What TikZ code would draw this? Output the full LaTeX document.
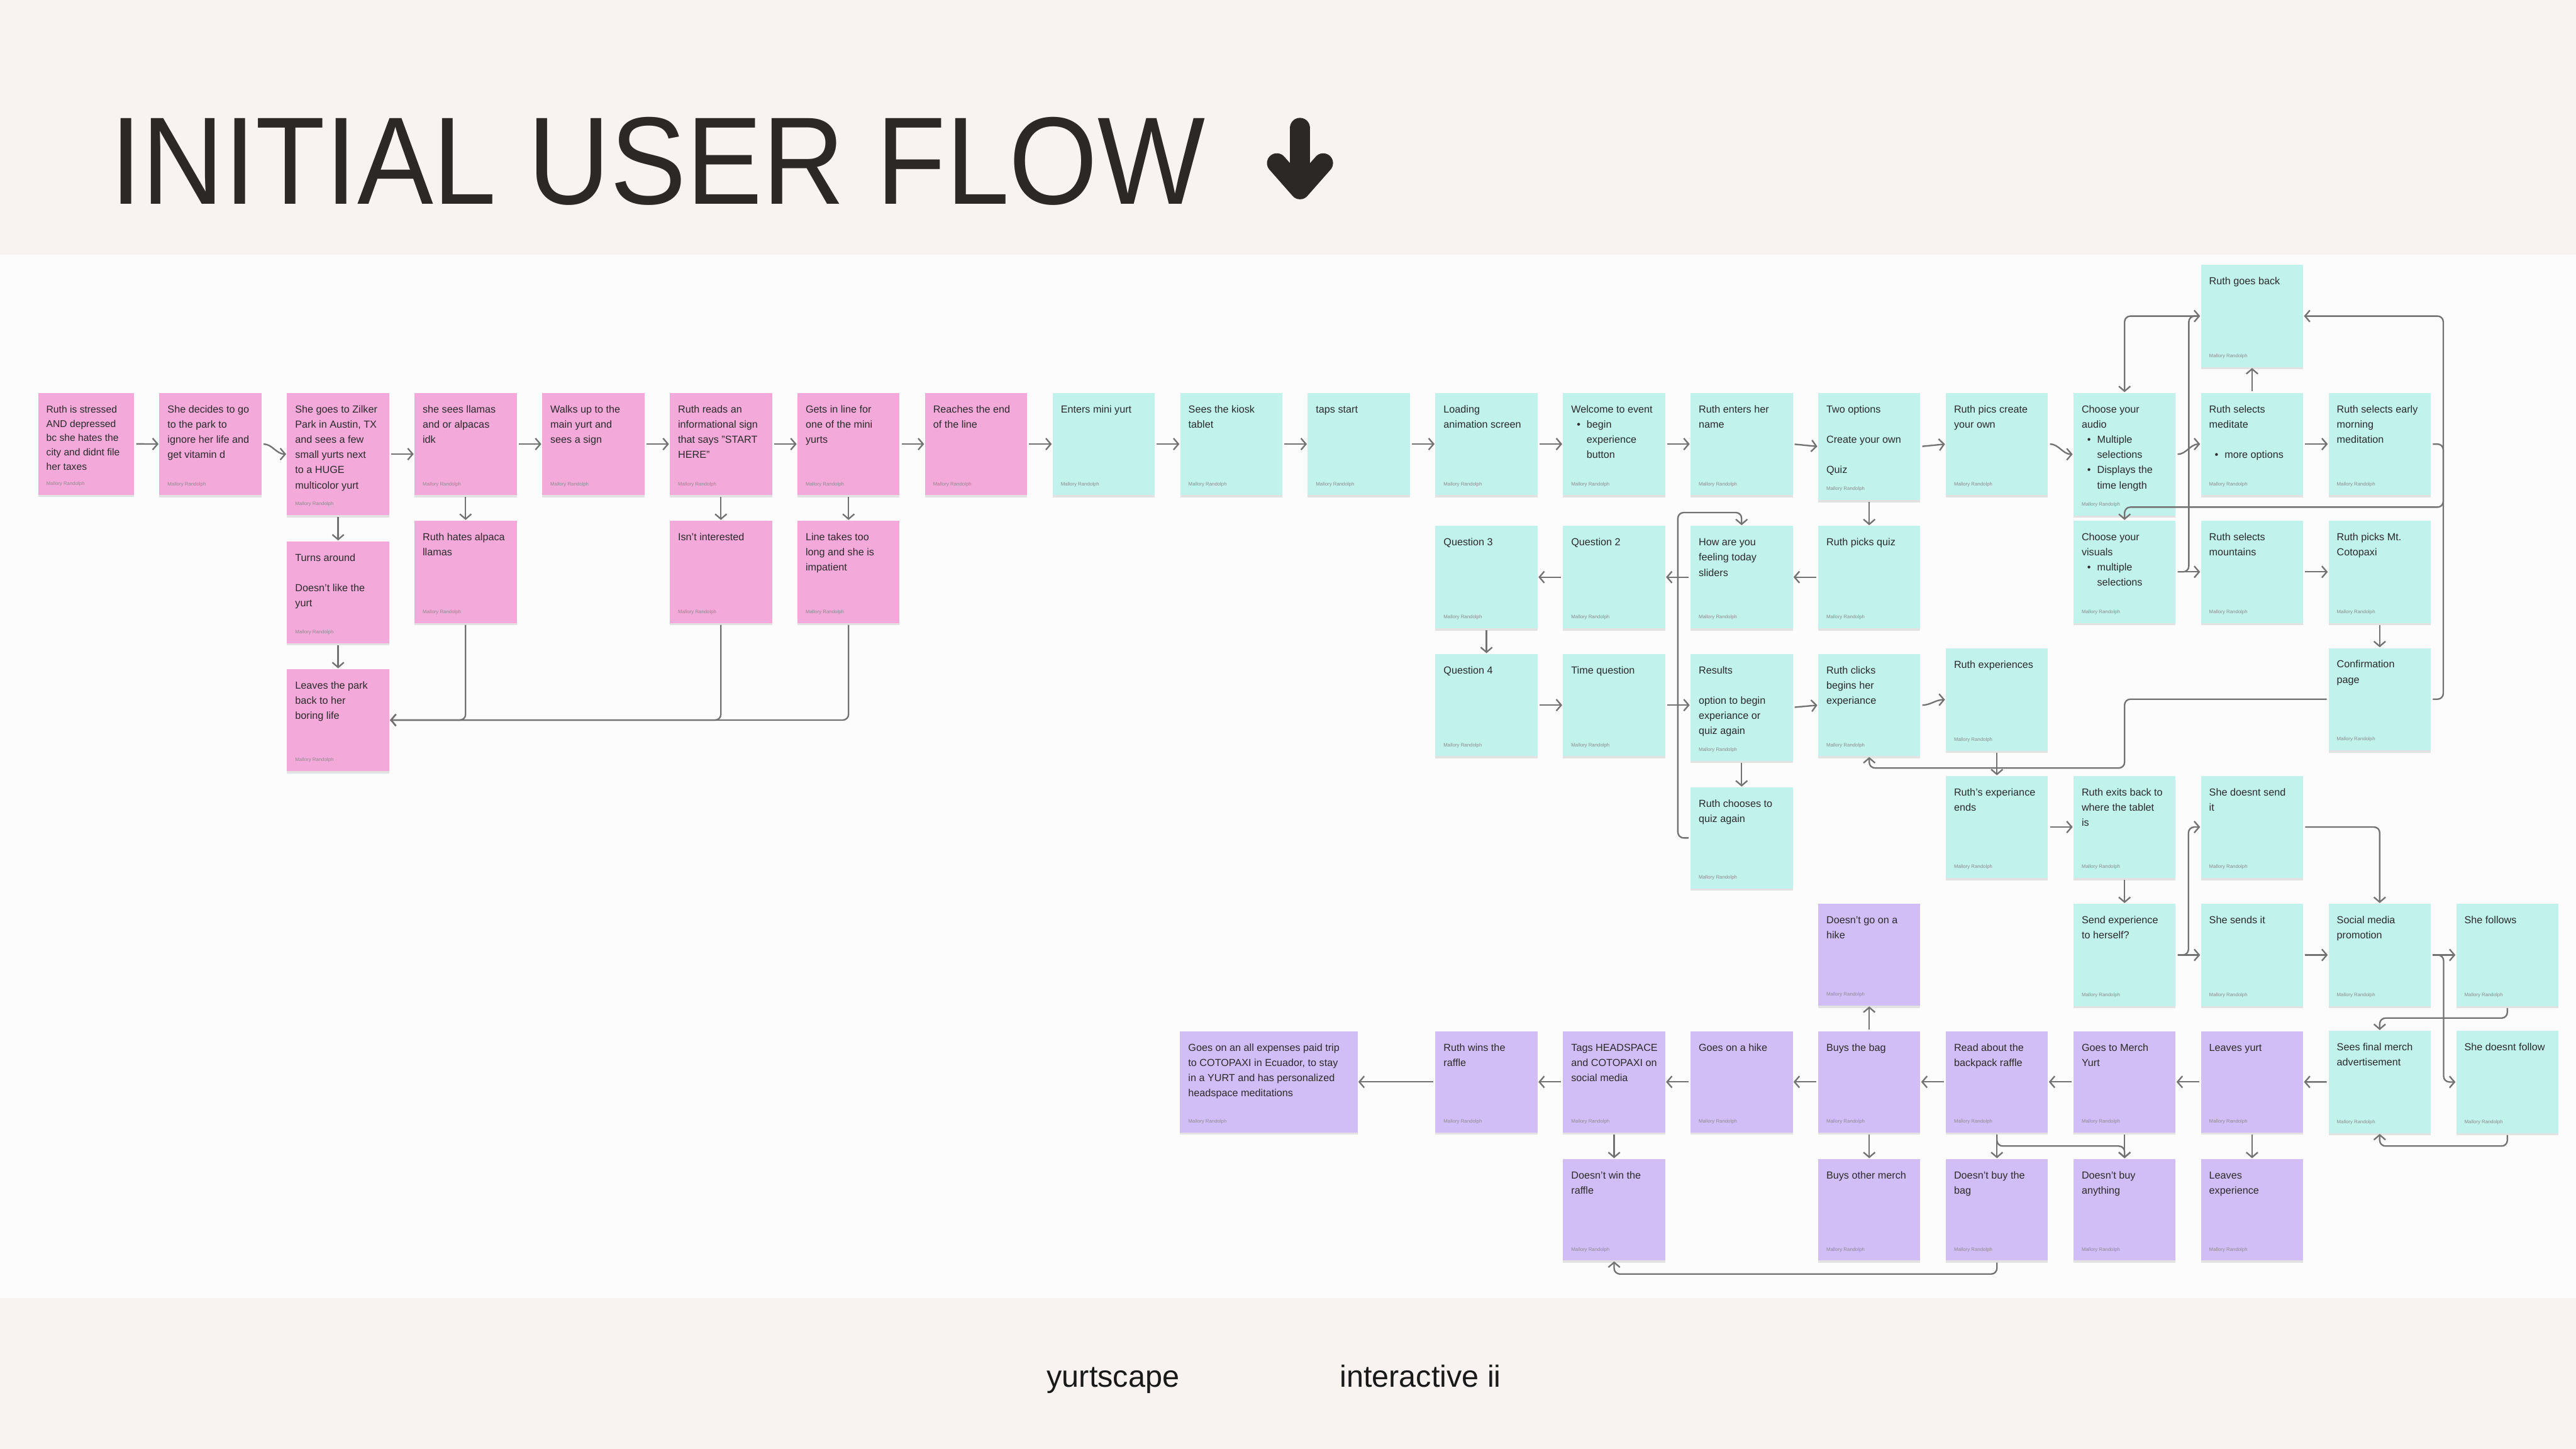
\documentclass[tikz,border=0pt]{standalone}
\usepackage{fontspec}
\setmainfont{Liberation Sans}
\usepackage{graphicx}
\usetikzlibrary{arrows.meta,shadows}
\definecolor{pinkc}{HTML}{F3AADA}
\definecolor{cyanc}{HTML}{C1F2EC}
\definecolor{purpc}{HTML}{D2BEF7}
\definecolor{bandc}{HTML}{F8F3F1}
\definecolor{bgc}{HTML}{FCFCFC}
\definecolor{txtc}{HTML}{2A2A2A}
\definecolor{authc}{HTML}{8C8C8C}
\definecolor{arrc}{HTML}{727272}
\definecolor{titc}{HTML}{2B2826}
\newcommand\stkfont{\fontsize{6.2}{9.25}\selectfont}
\newcommand\stkfontS{\fontsize{6.0}{8.75}\selectfont}
\newcommand\authfont{\fontsize{3}{3.6}\selectfont\color{authc}}
\newcommand\bul[1]{\par\hangindent=9.4pt\hangafter=1\noindent\hbox to 9.4pt{\hskip3.4pt\textbullet\hss}#1\par}
% #1 font, #2 name, #3 x, #4 y, #5 w, #6 h, #7 colour, #8 text
\newcommand\stk[8][\stkfont]{%
  \node[stick,fill=#7] (#2) at ({#3+#5/2},{#4+#6/2})
  {\hbox to \dimexpr#5pt-10pt\relax{\parbox[t][#6pt][t]{\dimexpr#5pt-5pt\relax}{#1\rightskip=0pt plus 1fil\relax\hyphenpenalty=10000\relax
   \rule{0pt}{12pt}#8\par\vskip 0pt plus 1fill{\authfont Mallory Randolph\par}\vspace*{5.2pt}}\hss}};}
\tikzset{
  stick/.style={rectangle, inner xsep=5pt, inner ysep=0pt, outer sep=0pt, text=txtc,
    drop shadow={shadow xshift=0pt, shadow yshift=-1.4pt, opacity=0.10, fill=black}},
  arr/.style={draw=arrc, line width=0.9pt, rounded corners=3.5pt,
    -{Straight Barb[length=3pt,width=7pt]}, shorten <=1.2pt, shorten >=0.5pt},
}
\begin{document}
\begin{tikzpicture}[x=1pt,y=-1pt,line join=round]
\fill[bgc] (0,0) rectangle (1568,882);
\fill[bandc] (0,0) rectangle (1568,155);
\fill[bandc] (0,790) rectangle (1568,882);
\useasboundingbox (0,0) rectangle (1568,882);
% title
\node[anchor=base west, inner sep=0, text=titc] (title) at (66.95,124.1)
  {\fontsize{75.8}{80}\selectfont\scalebox{0.915}[1]{INITIAL USER FLOW}};
\draw[titc, line width=12.5pt, line cap=round] (791.3,78) -- (791.3,112);
\draw[titc, line width=12pt, line cap=round, line join=round] (777.2,99.3) -- (791.3,115.3) -- (805.4,99.3);
% footer
\node[anchor=base west, inner sep=0, text=black!90] (ft1) at (637,844.1) {\fontsize{18.6}{20}\selectfont yurtscape};
\node[anchor=base west, inner sep=0, text=black!90] (ft2) at (815.3,844.1) {\fontsize{18.6}{20}\selectfont interactive ii};
% ---------------- pink cards
\stk[\stkfontS]{c1}{23.2}{239.2}{58.5}{62}{pinkc}{Ruth is stressed\\AND depressed\\bc she hates the\\city and didnt file\\her taxes}
\stk{c2}{97.0}{239.2}{62.2}{62.2}{pinkc}{She decides to go\\to the park to\\ignore her life and\\get vitamin d}
\stk{c3}{174.7}{239.2}{62.2}{74.4}{pinkc}{She goes to Zilker\\Park in Austin, TX\\and sees a few\\small yurts next\\to a HUGE\\multicolor yurt}
\stk{c4}{252.3}{239.2}{62.2}{62.2}{pinkc}{she sees llamas\\and or alpacas\\idk}
\stk{c5}{330.0}{239.2}{62.2}{62.2}{pinkc}{Walks up to the\\main yurt and\\sees a sign}
\stk{c6}{407.7}{239.2}{62.2}{62.2}{pinkc}{Ruth reads an\\informational sign\\that says "START\\HERE"}
\stk{c7}{485.4}{239.2}{62.2}{62.2}{pinkc}{Gets in line for\\one of the mini\\yurts}
\stk{c8}{563.0}{239.2}{62.2}{62.2}{pinkc}{Reaches the end\\of the line}
\stk{t1}{174.7}{329.5}{62.2}{62}{pinkc}{Turns around\\\mbox{}\\Doesn't like the\\yurt}
\stk{l1}{174.7}{407.3}{62.2}{62}{pinkc}{Leaves the park\\back to her\\boring life}
\stk{h1}{252.3}{317.0}{62.2}{62.2}{pinkc}{Ruth hates alpaca\\llamas}
\stk{i1}{407.7}{317.0}{62.2}{62.2}{pinkc}{Isn't interested}
\stk{lt}{485.4}{317.0}{62.2}{62.2}{pinkc}{Line takes too\\long and she is\\impatient}
% ---------------- cyan cards
\stk{e1}{640.7}{239.2}{62.2}{62.2}{cyanc}{Enters mini yurt}
\stk{k1}{718.4}{239.2}{62.2}{62.2}{cyanc}{Sees the kiosk\\tablet}
\stk{ts}{796.0}{239.2}{62.2}{62.2}{cyanc}{taps start}
\stk{ld}{873.7}{239.2}{62.2}{62.2}{cyanc}{Loading\\animation screen}
\stk{wl}{951.4}{239.2}{62.2}{62.2}{cyanc}{Welcome to event\bul{begin\\experience\\button}}
\stk{rn}{1029.0}{239.2}{62.2}{62.2}{cyanc}{Ruth enters her\\name}
\stk{tw}{1106.7}{239.2}{62.2}{65.2}{cyanc}{Two options\\\mbox{}\\Create your own\\\mbox{}\\Quiz}
\stk{rp}{1184.4}{239.2}{62.2}{62.2}{cyanc}{Ruth pics create\\your own}
\stk{au}{1262.1}{239.2}{62.2}{74.6}{cyanc}{Choose your\\audio\bul{Multiple\\selections}\bul{Displays the\\time length}}
\stk{me}{1339.7}{239.2}{62.2}{62.2}{cyanc}{Ruth selects\\meditate\\\mbox{}\bul{more options}}
\stk{em}{1417.4}{239.2}{62.2}{62.2}{cyanc}{Ruth selects early\\morning\\meditation}
\stk{gb}{1339.7}{161.3}{62.2}{62.2}{cyanc}{Ruth goes back}
\stk{vi}{1262.1}{317.0}{62.2}{62.2}{cyanc}{Choose your\\visuals\bul{multiple\\selections}}
\stk{mo}{1339.7}{317.0}{62.2}{62.2}{cyanc}{Ruth selects\\mountains}
\stk{co}{1417.4}{317.0}{62.2}{62.2}{cyanc}{Ruth picks Mt.\\Cotopaxi}
\stk{cf}{1417.4}{394.5}{62.2}{62.2}{cyanc}{Confirmation\\page}
\stk{q3}{873.7}{320.2}{62.2}{62.2}{cyanc}{Question 3}
\stk{q2}{951.4}{320.2}{62.2}{62.2}{cyanc}{Question 2}
\stk{hw}{1029.0}{320.2}{62.2}{62.2}{cyanc}{How are you\\feeling today\\sliders}
\stk{pq}{1106.7}{320.2}{62.2}{62.2}{cyanc}{Ruth picks quiz}
\stk{q4}{873.7}{398.1}{62.2}{62.2}{cyanc}{Question 4}
\stk{tq}{951.4}{398.1}{62.2}{62.2}{cyanc}{Time question}
\stk{rs}{1029.0}{398.1}{62.2}{65.0}{cyanc}{Results\\\mbox{}\\option to begin\\experiance or\\quiz again}
\stk{rc}{1106.7}{398.1}{62.2}{62.2}{cyanc}{Ruth clicks\\begins her\\experiance}
\stk{rx}{1184.4}{394.8}{62.2}{62.2}{cyanc}{Ruth experiences}
\stk{ch}{1029.0}{479.3}{62.2}{61.5}{cyanc}{Ruth chooses to\\quiz again}
\stk{ee}{1184.4}{472.4}{62.2}{62.0}{cyanc}{Ruth's experiance\\ends}
\stk{ex}{1262.1}{472.4}{62.2}{62.0}{cyanc}{Ruth exits back to\\where the tablet\\is}
\stk{ds}{1339.7}{472.4}{62.2}{62.0}{cyanc}{She doesnt send\\it}
\stk{se}{1262.1}{550.2}{62.2}{62.2}{cyanc}{Send experience\\to herself?}
\stk{ss}{1339.7}{550.2}{62.2}{62.2}{cyanc}{She sends it}
\stk{sm}{1417.4}{550.2}{62.2}{62.2}{cyanc}{Social media\\promotion}
\stk{sf}{1495.1}{550.2}{62.2}{62.2}{cyanc}{She follows}
\stk{fm}{1417.4}{627.5}{62.2}{62.2}{cyanc}{Sees final merch\\advertisement}
\stk{sd}{1495.1}{627.5}{62.2}{62.2}{cyanc}{She doesnt follow}
% ---------------- purple cards
\stk{dh}{1106.7}{550.1}{62.2}{62.0}{purpc}{Doesn't go on a\\hike}
\stk{gt}{718.3}{627.8}{108.0}{61.5}{purpc}{Goes on an all expenses paid trip\\to COTOPAXI in Ecuador, to stay\\in a YURT and has personalized\\headspace meditations}
\stk{rw}{873.7}{627.8}{62.2}{61.5}{purpc}{Ruth wins the\\raffle}
\stk{tg}{951.4}{627.8}{62.2}{61.5}{purpc}{Tags HEADSPACE\\and COTOPAXI on\\social media}
\stk{gh}{1029.0}{627.8}{62.2}{61.5}{purpc}{Goes on a hike}
\stk{bb}{1106.7}{627.8}{62.2}{61.5}{purpc}{Buys the bag}
\stk{ra}{1184.4}{627.8}{62.2}{61.5}{purpc}{Read about the\\backpack raffle}
\stk{gm}{1262.1}{627.8}{62.2}{61.5}{purpc}{Goes to Merch\\Yurt}
\stk{ly}{1339.7}{627.8}{62.2}{61.5}{purpc}{Leaves yurt}
\stk{dw}{951.4}{705.5}{62.2}{61.8}{purpc}{Doesn't win the\\raffle}
\stk{bo}{1106.7}{705.5}{62.2}{61.8}{purpc}{Buys other merch}
\stk{db}{1184.4}{705.5}{62.2}{61.8}{purpc}{Doesn't buy the\\bag}
\stk{dn}{1262.1}{705.5}{62.2}{61.8}{purpc}{Doesn't buy\\anything}
\stk{le}{1339.7}{705.5}{62.2}{61.8}{purpc}{Leaves\\experience}
% ---------------- connectors: top row
\draw[arr] (c1.east) -- (c2.west);
\draw[arr] (c2.east) to[out=0,in=180] (c3.west);
\draw[arr] (c3.east) -- (c3.east -| c4.west);
\draw[arr] (c4.east) -- (c5.west);
\draw[arr] (c5.east) -- (c6.west);
\draw[arr] (c6.east) -- (c7.west);
\draw[arr] (c7.east) -- (c8.west);
\draw[arr] (c8.east) -- (e1.west);
\draw[arr] (e1.east) -- (k1.west);
\draw[arr] (k1.east) -- (ts.west);
\draw[arr] (ts.east) -- (ld.west);
\draw[arr] (ld.east) -- (wl.west);
\draw[arr] (wl.east) -- (rn.west);
\draw[arr] (rn.east) -- (tw.west);
\draw[arr] (tw.east) -- (rp.west);
\draw[arr] (rp.east) to[out=0,in=180] (au.west);
\draw[arr] (au.east) to[out=0,in=180] (me.west);
\draw[arr] (me.east) -- (em.west);
\draw[arr] (me.north) -- (gb.south);
\draw[arr] (gb.west) -| (au.north);
\draw[arr] (vi.east) -- ++(8,0) |- (gb.west);
\draw[arr] (em.east) -| (1487.2,308.7) -| (vi.north);
\draw[arr] (vi.east) -- (mo.west);
\draw[arr] (mo.east) -- (co.west);
\draw[arr] (co.south) -- (cf.north);
\draw[arr] (cf.east) -- ++(7.6,0) |- (gb.east);
\draw[arr] (cf.west) -| (1293.2,467.5) -| (rc.south);
% pink branches
\draw[arr] (c3.south) -- (t1.north);
\draw[arr] (t1.south) -- (l1.north);
\draw[arr] (c4.south) -- (h1.north);
\draw[arr] (c6.south) -- (i1.north);
\draw[arr] (c7.south) -- (lt.north);
\draw[arr] (h1.south) |- (l1.east);
\draw[arr] (i1.south) |- (l1.east);
\draw[arr] (lt.south) |- (l1.east);
% quiz
\draw[arr] (tw.south) -- (pq.north);
\draw[arr] (pq.west) -- (hw.east);
\draw[arr] (hw.west) -- (q2.east);
\draw[arr] (q2.west) -- (q3.east);
\draw[arr] (q3.south) -- (q4.north);
\draw[arr] (q4.east) -- (tq.west);
\draw[arr] (tq.east) -- (tq.east -| rs.west);
\draw[arr] (rs.east) -- (rc.west);
\draw[arr] (rc.east) to[out=0,in=180] (rx.west);
\draw[arr] (rx.south) -- (ee.north);
\draw[arr] (rs.south) -- (ch.north);
\draw[arr] (ch.west) -| (1021.3,312) -| (hw.north);
% after experience
\draw[arr] (ee.east) -- (ex.west);
\draw[arr] (ex.south) -- (se.north);
\draw[arr] (se.east) -- (ss.west);
\draw[arr] (se.east) -- ++(7.8,0) |- (ds.west);
\draw[arr] (ds.east) -| (sm.north);
\draw[arr] (ss.east) -- (sm.west);
\draw[arr] (sm.east) -- (sf.west);
\draw[arr] (sm.east) -- ++(7.8,0) |- (sd.west);
\draw[arr] (sf.south) |- (1448.5,619.7) -- (fm.north);
\draw[arr] (sd.south) |- (1448.5,697.6) -- (fm.south);
% merch row
\draw[arr] (fm.west) -- (ly.east);
\draw[arr] (ly.west) -- (gm.east);
\draw[arr] (gm.west) -- (ra.east);
\draw[arr] (ra.west) -- (bb.east);
\draw[arr] (bb.west) -- (gh.east);
\draw[arr] (gh.west) -- (tg.east);
\draw[arr] (tg.west) -- (rw.east);
\draw[arr] (rw.west) -- (gt.east);
\draw[arr] (ly.south) -- (le.north);
\draw[arr] (gm.south) -- (dn.north);
\draw[arr] (ra.south) -- (db.north);
\draw[arr] (ra.south) |- (1293.2,697.6) -- (dn.north);
\draw[arr] (bb.north) -- (dh.south);
\draw[arr] (bb.south) -- (bo.north);
\draw[arr] (tg.south) -- (dw.north);
\draw[arr] (db.south) |- (982.5,775.5) -- (dw.south);
\end{tikzpicture}
\end{document}
